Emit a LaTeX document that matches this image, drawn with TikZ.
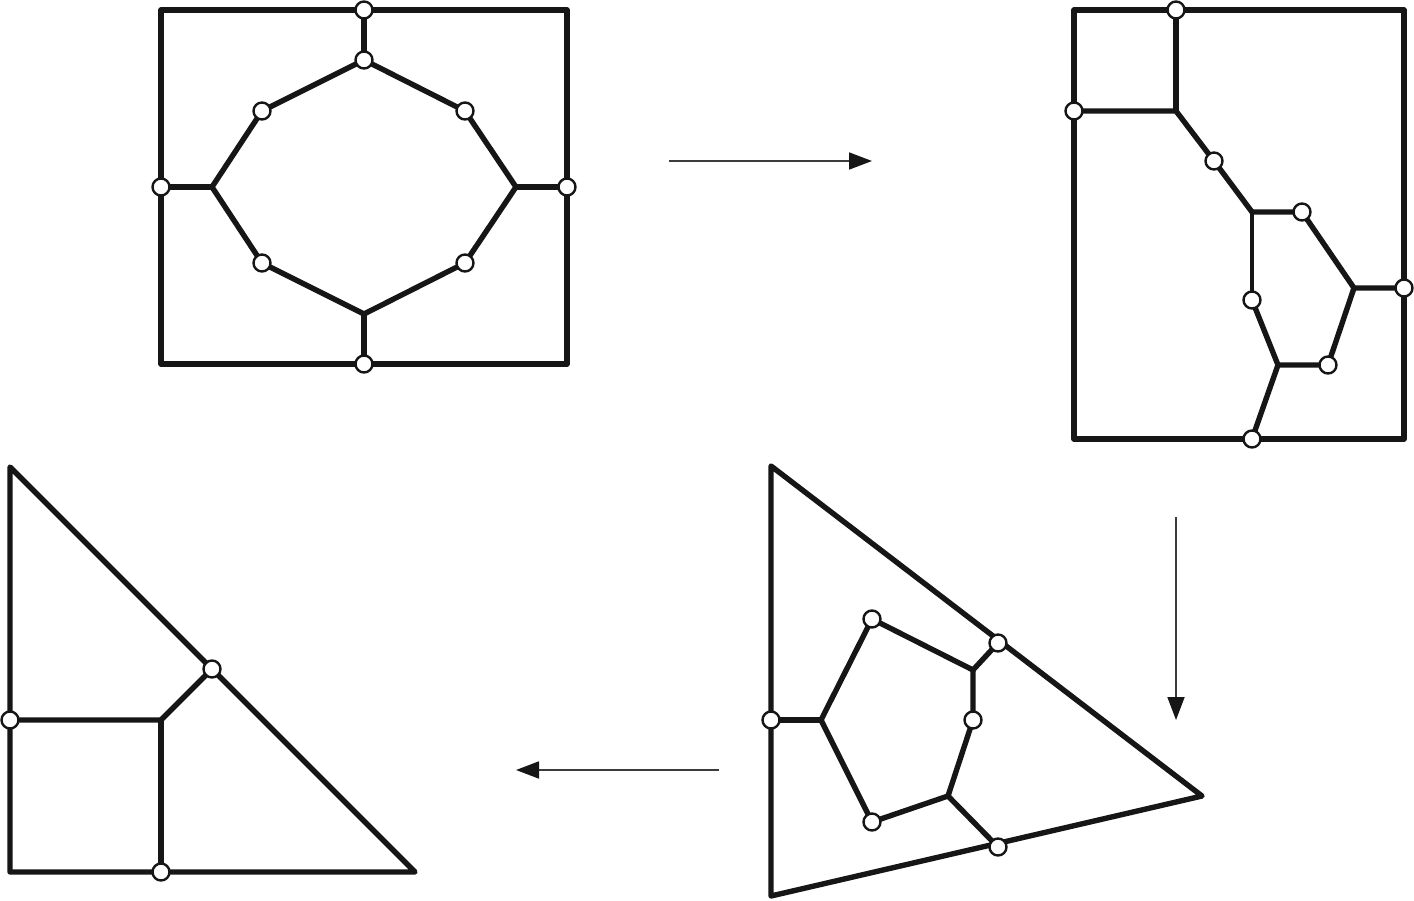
\documentclass[tikz,border=0pt]{standalone}
\usetikzlibrary{arrows.meta}
\definecolor{ink}{RGB}{22,22,22}
\definecolor{arrowgray}{RGB}{60,60,60}
\tikzset{
  edge/.style={draw=ink, line width=5.4pt, line join=round, line cap=round},
  vtx/.style={circle, draw=ink, fill=white, line width=2.4pt, minimum size=17pt, inner sep=0pt},
  flow/.style={draw=arrowgray, line width=1.8pt, -{Triangle[length=23pt,width=17pt,color=ink]}},
}
\begin{document}
\begin{tikzpicture}[x=1pt,y=-1pt]
\useasboundingbox (0,0) rectangle (1414,901);

% ---------- Panel 1 (top left) ----------
\coordinate (a-tl) at (161,10);  \coordinate (a-tr) at (567,10);
\coordinate (a-br) at (567,364); \coordinate (a-bl) at (161,364);
\coordinate (a-t) at (364,10);   \coordinate (a-t2) at (364,60);
\coordinate (a-ul) at (262,111); \coordinate (a-ur) at (465,111);
\coordinate (a-jl) at (212,187); \coordinate (a-jr) at (516,187);
\coordinate (a-l) at (161,187);  \coordinate (a-r) at (567,187);
\coordinate (a-ll) at (262,263); \coordinate (a-lr) at (465,263);
\coordinate (a-jb) at (364,314); \coordinate (a-b) at (364,364);
\draw[edge] (a-tl) -- (a-tr) -- (a-br) -- (a-bl) -- cycle;
\draw[edge] (a-t) -- (a-t2);
\draw[edge] (a-t2) -- (a-ul) -- (a-jl) -- (a-ll) -- (a-jb) -- (a-lr) -- (a-jr) -- (a-ur) -- cycle;
\draw[edge] (a-l) -- (a-jl);
\draw[edge] (a-jr) -- (a-r);
\draw[edge] (a-jb) -- (a-b);
\foreach \p in {a-t,a-t2,a-ul,a-ur,a-l,a-r,a-ll,a-lr,a-b}
  \node[vtx] (n\p) at (\p) {};

% ---------- Panel 2 (top right) ----------
\coordinate (b-tl) at (1074,10);  \coordinate (b-tr) at (1404,10);
\coordinate (b-br) at (1404,439); \coordinate (b-bl) at (1074,439);
\coordinate (b-t) at (1176,10);   \coordinate (b-j1) at (1176,111);
\coordinate (b-l) at (1074,111);  \coordinate (b-m1) at (1214,161);
\coordinate (b-j2) at (1252,212); \coordinate (b-m2) at (1302,212);
\coordinate (b-j3) at (1354,288); \coordinate (b-r) at (1404,288);
\coordinate (b-m3) at (1252,300); \coordinate (b-j4) at (1278,365);
\coordinate (b-m4) at (1328,365); \coordinate (b-b) at (1252,439);
\draw[edge] (b-tl) -- (b-tr) -- (b-br) -- (b-bl) -- cycle;
\draw[edge] (b-t) -- (b-j1);
\draw[edge] (b-l) -- (b-j1) -- (b-m1) -- (b-j2);
\draw[edge] (b-j2) -- (b-m2) -- (b-j3) -- (b-r);
\draw[edge, line width=4.2pt] (b-j2) -- (b-m3);
\draw[edge] (b-m3) -- (b-j4) -- (b-m4) -- (b-j3);
\draw[edge] (b-j4) -- (b-b);
\foreach \p in {b-t,b-l,b-m1,b-m2,b-r,b-m3,b-m4,b-b}
  \node[vtx] (n\p) at (\p) {};

% ---------- Panel 3 (bottom right) ----------
\coordinate (c-t) at (771,466);  \coordinate (c-r) at (1202,796);
\coordinate (c-b) at (771,896);
\coordinate (c-l) at (771,720);  \coordinate (c-j1) at (821,720);
\coordinate (c-m1) at (872,619); \coordinate (c-j2) at (973,670);
\coordinate (c-h) at (998,643);  \coordinate (c-m2) at (973,720);
\coordinate (c-j3) at (948,796); \coordinate (c-m3) at (872,822);
\coordinate (c-e) at (998,847);
\draw[edge] (c-t) -- (c-r) -- (c-b) -- cycle;
\draw[edge] (c-l) -- (c-j1);
\draw[edge] (c-j1) -- (c-m1) -- (c-j2) -- (c-m2) -- (c-j3) -- (c-m3) -- cycle;
\draw[edge] (c-j2) -- (c-h);
\draw[edge] (c-j3) -- (c-e);
\foreach \p in {c-l,c-m1,c-h,c-m2,c-m3,c-e}
  \node[vtx] (n\p) at (\p) {};

% ---------- Panel 4 (bottom left) ----------
\coordinate (d-t) at (10,467);  \coordinate (d-bl) at (10,872);
\coordinate (d-br) at (415,872);
\coordinate (d-h) at (212,669); \coordinate (d-j) at (161,720);
\coordinate (d-l) at (10,720);  \coordinate (d-b) at (161,872);
\draw[edge] (d-t) -- (d-br) -- (d-bl) -- cycle;
\draw[edge] (d-l) -- (d-j) -- (d-h);
\draw[edge] (d-j) -- (d-b);
\foreach \p in {d-h,d-l,d-b}
  \node[vtx] (n\p) at (\p) {};

% ---------- Arrows ----------
\coordinate (f1s) at (669,161);  \coordinate (f1e) at (872,161);
\coordinate (f2s) at (1176,517); \coordinate (f2e) at (1176,720);
\coordinate (f3s) at (719,770);  \coordinate (f3e) at (516,770);
\draw[flow] (f1s) -- (f1e);
\draw[flow] (f2s) -- (f2e);
\draw[flow] (f3s) -- (f3e);
\end{tikzpicture}
\end{document}
